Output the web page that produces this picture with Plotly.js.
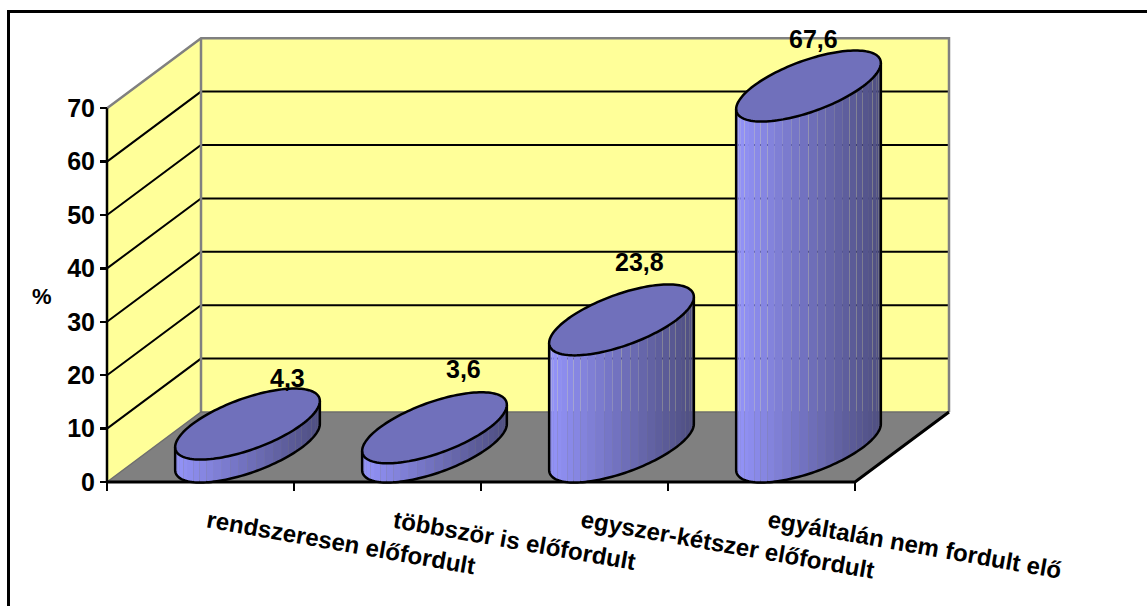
<!DOCTYPE html>
<html>
<head>
<meta charset="utf-8">
<script src="https://cdn.plot.ly/plotly-3.0.1.min.js"></script>
<style>html,body{margin:0;padding:0;background:#fff}#chart{width:1147px;height:606px}</style>
</head>
<body>
<div id="chart"></div>
<script>
const categories = ["rendszeresen előfordult", "többször is előfordult", "egyszer-kétszer előfordult", "egyáltalán nem fordult elő"];
const values = [4.3, 3.6, 23.8, 67.6];
const yTicks = [0, 10, 20, 30, 40, 50, 60, 70];
const xTicks = [0, 1, 2, 3, 4];
const yMax = 70;

// scales of the frame
const W = 1147, H = 606, originX = 107, originY = 482, pxCat = 187, pxUnit = 5.34;
const depthX = 94 / pxCat, depthY = 70 / pxUnit;
const radA = 55 / pxCat, radB = 47 / pxCat, radC = 35.5 / pxUnit;
const FONT = "Liberation Sans, Arial, sans-serif";
const STRIPS = 26;

// label nudges (pixels)
const labelShiftX = [40, 29, 18, 5];
const labelShiftY = [11, 23, 22, 12];

const traces = [];
function poly(x, y, fill, line, lw) {
  traces.push({type: "scatter", mode: line ? "lines" : "none", x, y, fill: fill ? "toself" : "none",
    fillcolor: fill || undefined, line: {color: line || "rgba(0,0,0,0)", width: lw || 0, simplify: false},
    hoverinfo: "skip", showlegend: false, cliponaxis: false});
}
function seg(x, y, color, lw) {
  traces.push({type: "scatter", mode: "lines", x, y, line: {color, width: lw, simplify: false},
    hoverinfo: "skip", showlegend: false, cliponaxis: false});
}
const nCat = categories.length;
const GRAY = "#808080", YEL = "#FFFF99";
// back wall, side wall, floor
poly([depthX, depthX + nCat, depthX + nCat, depthX, depthX], [depthY, depthY, depthY + yMax, depthY + yMax, depthY], YEL);
poly([0, depthX, depthX, 0, 0], [0, depthY, depthY + yMax, yMax, 0], YEL);
poly([0, nCat, nCat + depthX, depthX, 0], [0, 0, depthY, depthY, 0], GRAY);
// grid lines
yTicks.filter(v => v > 0 && v < yMax).forEach(v => {
  seg([0, depthX, depthX + nCat], [v, v + depthY, v + depthY], "#000", 2);
});
// wall edges
seg([0, depthX, depthX + nCat, depthX + nCat], [yMax, yMax + depthY, yMax + depthY, depthY], GRAY, 2.5);
seg([depthX, depthX], [yMax + depthY, depthY], GRAY, 2.5);
seg([0, depthX, depthX + nCat], [0, depthY, depthY], "#6e6e6e", 1.5);
// axes
seg([0, 0], [0, yMax], "#000", 2.5);
seg([depthX + nCat, nCat, 0], [depthY, 0, 0], "#000", 3);

// cylinders
function lerpColor(f) {
  const stops = [[148, 148, 250], [112, 112, 188], [78, 78, 128]];
  const g = f * 2, i = Math.min(1, Math.floor(g)), u = g - i;
  const c = stops[i].map((s, k) => Math.round(s + (stops[i + 1][k] - s) * u));
  return `rgb(${c[0]},${c[1]},${c[2]})`;
}
const t0 = Math.atan2(radB, radA);
values.forEach((v, i) => {
  const cx = i + 0.5 + depthX / 2, cy = depthY / 2;
  const ex = t => cx + radA * Math.cos(t) + radB * Math.sin(t);
  const ey = (t, h) => cy + h + radC * Math.sin(t);
  const span = Math.hypot(radA, radB);
  for (let s = 0; s < STRIPS; s++) {
    const a = t0 + Math.PI + Math.PI * s / STRIPS, b = t0 + Math.PI + Math.PI * (s + 1) / STRIPS;
    const xs = [], ys = [];
    const n = 4;
    for (let k = 0; k <= n; k++) { const t = a + (b - a) * k / n; xs.push(ex(t)); ys.push(ey(t, 0)); }
    for (let k = n; k >= 0; k--) { const t = a + (b - a) * k / n; xs.push(ex(t)); ys.push(ey(t, v)); }
    xs.push(xs[0]); ys.push(ys[0]);
    const f = (ex((a + b) / 2) - (cx - span)) / (2 * span);
    poly(xs, ys, lerpColor(f));
  }
  // outline of the side
  const ox = [], oy = [];
  ox.push(ex(t0 + Math.PI)); oy.push(ey(t0 + Math.PI, v));
  for (let k = 0; k <= 72; k++) { const t = t0 + Math.PI + Math.PI * k / 72; ox.push(ex(t)); oy.push(ey(t, 0)); }
  ox.push(ex(t0)); oy.push(ey(t0, v));
  seg(ox, oy, "#000", 2.5);
  // top
  const tx = [], ty = [];
  for (let k = 0; k <= 144; k++) { const t = 2 * Math.PI * k / 144; tx.push(ex(t)); ty.push(ey(t, v)); }
  poly(tx, ty, "#7070BB", "#000", 2.5);
});

const boldFont = (size) => ({family: FONT, size, color: "#000", weight: 700});
const annotations = [];
values.forEach((v, i) => {
  annotations.push({
    x: i + 0.5 + depthX / 2, y: v + depthY / 2 + radC,
    xref: "x", yref: "y", text: String(v).replace(".", ","), showarrow: false,
    xanchor: "center", yanchor: "middle",
    xshift: labelShiftX[i], yshift: labelShiftY[i], font: boldFont(25)
  });
});
categories.forEach((c, i) => {
  annotations.push({
    x: i + 0.5, y: -4.0, xref: "x", yref: "y", text: c, showarrow: false,
    xanchor: "left", yanchor: "top", xshift: 2, textangle: 10, font: boldFont(24)
  });
});
annotations.push({x: -65 / pxCat * 1, y: (482 - 296) / pxUnit, xref: "x", yref: "y", text: "%", showarrow: false,
  xanchor: "center", yanchor: "middle", font: boldFont(22)});

const layout = {
  width: W, height: H, margin: {l: 0, r: 0, t: 0, b: 0, pad: 0},
  paper_bgcolor: "#fff", plot_bgcolor: "rgba(0,0,0,0)", showlegend: false, hovermode: false,
  xaxis: {
    range: [-originX / pxCat, (W - originX) / pxCat], anchor: "free", position: (H - originY) / H,
    tickmode: "array", tickvals: xTicks, ticktext: xTicks.map(() => ""), ticks: "outside", ticklen: 8, tickwidth: 2.5,
    tickcolor: "#000", showgrid: false, zeroline: false, showline: false, fixedrange: true
  },
  yaxis: {
    range: [-(H - originY) / pxUnit, originY / pxUnit], anchor: "free", position: originX / W,
    tickmode: "array", tickvals: yTicks, ticks: "outside", ticklen: 7, tickwidth: 2.5, tickcolor: "#000",
    tickfont: boldFont(25), showgrid: false, zeroline: false, showline: false, fixedrange: true
  },
  shapes: [{type: "rect", xref: "paper", yref: "paper", x0: 8.5 / W, x1: 1.1, y0: -0.1, y1: 1 - 11.5 / H,
    line: {color: "#000", width: 3}, fillcolor: "rgba(0,0,0,0)", layer: "below"}],
  annotations
};
Plotly.newPlot("chart", traces, layout, {displayModeBar: false, staticPlot: true});
</script>
</body>
</html>
